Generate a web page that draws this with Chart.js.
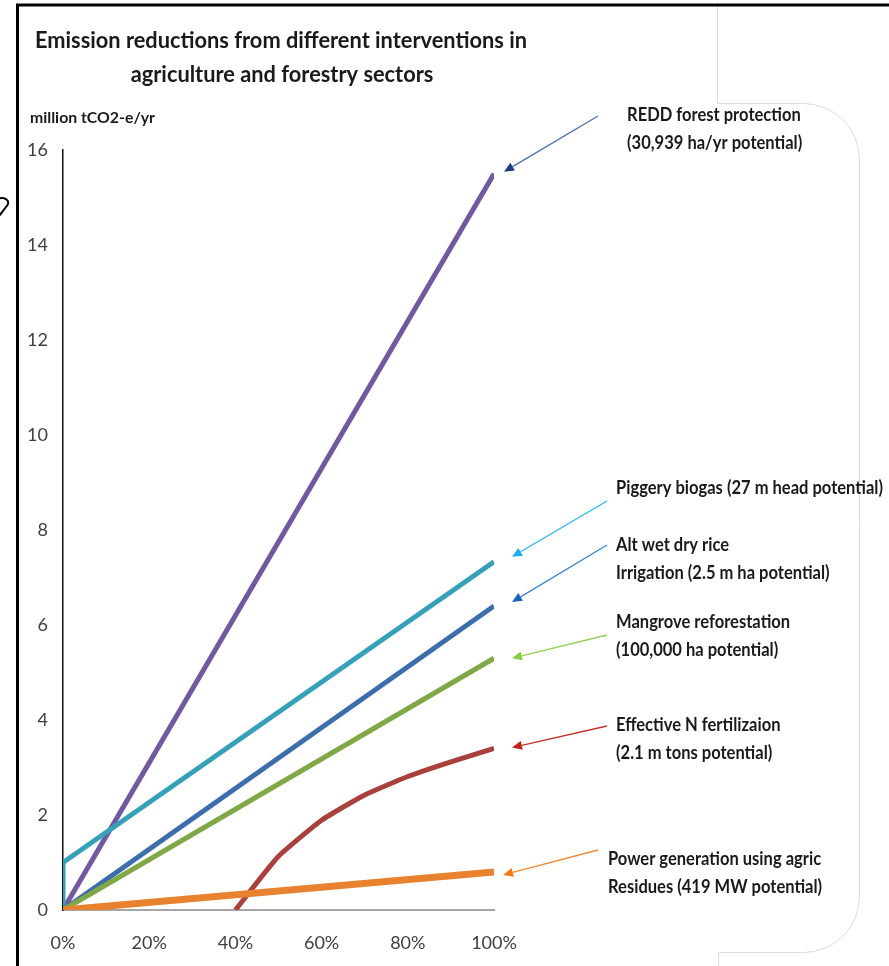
<!DOCTYPE html>
<html><head><meta charset="utf-8">
<script src="https://cdn.jsdelivr.net/npm/chart.js@4.4.1/dist/chart.umd.min.js"></script>
<style>html,body{margin:0;padding:0;background:#fff;overflow:hidden}canvas{display:block}</style>
</head><body>
<canvas id="c" width="889" height="966"></canvas>
<script>
const FONT = "Lato, 'Open Sans', 'Liberation Sans', sans-serif";

// ---- text ----
const titleLines = ['Emission reductions from different interventions in', 'agriculture and forestry sectors'];
const yAxisTitle = 'million tCO2-e/yr';
const seriesNames = ['REDD forest protection', 'Piggery biogas', 'Alt wet dry rice irrigation', 'Mangrove reforestation', 'Effective N fertilization', 'Power generation using agric residues'];
const labelRedd = ['REDD forest protection', '(30,939 ha/yr potential)'];
const labelPiggery = ['Piggery biogas (27 m head potential)'];
const labelRice = ['Alt wet dry rice', 'Irrigation (2.5 m ha potential)'];
const labelMangrove = ['Mangrove reforestation', '(100,000 ha potential)'];
const labelFert = ['Effective N fertilizaion', '(2.1 m tons potential)'];
const labelPower = ['Power generation using agric', 'Residues (419 MW potential)'];

// ---- ticks ----
const xTicks = [0, 20, 40, 60, 80, 100];
const yTicks = [0, 2, 4, 6, 8, 10, 12, 14, 16];

// ---- data (x = % of potential, y = million tCO2-e/yr) ----
const reddX = [0, 100];
const reddY = [0, 15.5];
const piggeryX = [0, 0, 100];
const piggeryY = [0, 1.0, 7.33];
const riceX = [0, 100];
const riceY = [0, 6.4];
const mangroveX = [0, 100];
const mangroveY = [0, 5.3];
const fertX = [40, 50, 60, 70, 80, 90, 100];
const fertY = [0, 1.13, 1.89, 2.42, 2.81, 3.12, 3.4];
const powerX = [0, 100];
const powerY = [0, 0.8];

const pts = (xs, ys) => xs.map((x, i) => ({x: x, y: ys[i]}));

const datasets = [
  {label: seriesNames[5], data: pts(powerX, powerY), borderColor: '#e8822f', borderWidth: 7, order: 0},
  {label: seriesNames[4], data: pts(fertX, fertY), borderColor: '#a8403c', borderWidth: 5, tension: 0.15, order: 1},
  {label: seriesNames[3], data: pts(mangroveX, mangroveY), borderColor: '#80a846', borderWidth: 5, order: 2},
  {label: seriesNames[2], data: pts(riceX, riceY), borderColor: '#3d6eac', borderWidth: 5, order: 3},
  {label: seriesNames[1], data: pts(piggeryX, piggeryY), borderColor: '#36a0b8', borderWidth: 5, order: 4},
  {label: seriesNames[0], data: pts(reddX, reddY), borderColor: '#7159a0', borderWidth: 5, order: 5}
];
datasets.forEach(d => { d.pointRadius = 0; d.pointHoverRadius = 0; d.fill = false; d.borderCapStyle = 'butt'; d.borderJoinStyle = 'round'; });

// annotation layout (positions of callout text/arrows)
const callouts = [
  {lines: labelRedd, xs: reddX, ys: reddY, tx: 627, ty: 115, from: [598, 116], tipDx: 10, tipDy: -2, line: '#4d6ea8', head: '#1c3d7e'},
  {lines: labelPiggery, xs: piggeryX, ys: piggeryY, tx: 616, ty: 488, from: [607, 501], tipDx: 18, tipDy: -5, line: '#2bb6ee', head: '#1aaeea'},
  {lines: labelRice, xs: riceX, ys: riceY, tx: 616, ty: 545, from: [607, 545], tipDx: 18, tipDy: -4, line: '#3a86c8', head: '#1565b5'},
  {lines: labelMangrove, xs: mangroveX, ys: mangroveY, tx: 616, ty: 622, from: [607, 635], tipDx: 18, tipDy: 0, line: '#95d055', head: '#8acb45'},
  {lines: labelFert, xs: fertX, ys: fertY, tx: 616, ty: 725, from: [607, 726], tipDx: 18, tipDy: -1, line: '#c4312b', head: '#c0201e'},
  {lines: labelPower, xs: powerX, ys: powerY, tx: 608, ty: 859, from: [598, 850], tipDx: 9, tipDy: 3, line: '#f08a35', head: '#ee7a1a'}
];

function arrow(ctx, x1, y1, x2, y2, lineColor, headColor) {
  const ang = Math.atan2(y2 - y1, x2 - x1);
  const L = 10, W = 4.5;
  const bx = x2 - L * Math.cos(ang), by = y2 - L * Math.sin(ang);
  ctx.save();
  ctx.strokeStyle = lineColor; ctx.lineWidth = 1.3;
  ctx.beginPath(); ctx.moveTo(x1, y1); ctx.lineTo(bx, by); ctx.stroke();
  ctx.fillStyle = headColor;
  ctx.beginPath();
  ctx.moveTo(x2, y2);
  ctx.lineTo(bx + W * Math.sin(ang), by - W * Math.cos(ang));
  ctx.lineTo(bx - W * Math.sin(ang), by + W * Math.cos(ang));
  ctx.closePath(); ctx.fill();
  ctx.restore();
}

// draw text with a horizontal condense factor k (Calibri-like narrowness)
function textK(ctx, t, x, y, k) {
  ctx.save(); ctx.translate(x, y); ctx.scale(k, 1); ctx.fillText(t, 0, 0); ctx.restore();
}

const decor = {
  id: 'decor',
  beforeDraw(chart) {
    const ctx = chart.ctx;
    ctx.save();
    ctx.fillStyle = '#fff';
    ctx.fillRect(0, 0, chart.width, chart.height);
    // faint rounded panel on the right
    ctx.strokeStyle = '#dcdcdc'; ctx.lineWidth = 1;
    ctx.beginPath();
    ctx.moveTo(717.5, 6); ctx.lineTo(717.5, 103.5); ctx.lineTo(803, 103.5);
    ctx.arcTo(859.5, 103.5, 859.5, 160, 56);
    ctx.lineTo(859.5, 896);
    ctx.arcTo(859.5, 952.5, 803, 952.5, 56);
    ctx.lineTo(718.5, 952.5); ctx.lineTo(718.5, 966);
    ctx.stroke();
    // black frame
    ctx.strokeStyle = '#000'; ctx.lineWidth = 3;
    ctx.beginPath(); ctx.moveTo(889, 5); ctx.lineTo(17.5, 5); ctx.lineTo(17.5, 966); ctx.stroke();
    // cropped fragment of a glyph at the left edge
    ctx.lineWidth = 2; ctx.lineCap = 'round'; ctx.lineJoin = 'round';
    ctx.beginPath();
    ctx.moveTo(-2, 198.5);
    ctx.bezierCurveTo(5, 197, 10, 200, 7.5, 205);
    ctx.lineTo(0, 215);
    ctx.stroke();
    ctx.restore();
  },
  afterDraw(chart) {
    const ctx = chart.ctx;
    const xs = chart.scales.x, ys = chart.scales.y;
    ctx.save();
    ctx.fillStyle = '#1a1a1a';
    ctx.textBaseline = 'middle';
    // title
    ctx.textAlign = 'center';
    ctx.font = 'bold 22px ' + FONT;
    const kT = 492 / ctx.measureText(titleLines[0]).width;
    textK(ctx, titleLines[0], 281, 41, kT);
    textK(ctx, titleLines[1], 282, 75, kT);
    // y-axis title
    ctx.textAlign = 'left';
    ctx.font = 'bold 15.5px ' + FONT;
    const kY = 125 / ctx.measureText(yAxisTitle).width;
    textK(ctx, yAxisTitle, 30, 118, kY);
    // callouts
    ctx.font = 'bold 18.5px ' + FONT;
    const kA = 267 / ctx.measureText(labelPiggery[0]).width;
    callouts.forEach(c => {
      c.lines.forEach((t, i) => textK(ctx, t, c.tx, c.ty + i * 28, kA));
      const n = c.xs.length - 1;
      const tipX = xs.getPixelForValue(c.xs[n]) + c.tipDx;
      const tipY = ys.getPixelForValue(c.ys[n]) + c.tipDy;
      arrow(ctx, c.from[0], c.from[1], tipX, tipY, c.line, c.head);
    });
    ctx.restore();
  }
};

new Chart(document.getElementById('c'), {
  type: 'line',
  data: {datasets: datasets},
  options: {
    responsive: false,
    devicePixelRatio: 1,
    animation: false,
    events: [],
    layout: {padding: {left: 0, right: 395, top: 150, bottom: 0}},
    plugins: {legend: {display: false}, title: {display: false}, tooltip: {enabled: false}},
    scales: {
      x: {
        type: 'linear', min: xTicks[0], max: xTicks[xTicks.length - 1],
        afterBuildTicks: s => { s.ticks = xTicks.map(v => ({value: v})); },
        afterFit: s => { s.height = 56; },
        grid: {display: false, drawTicks: false},
        border: {display: true, color: '#a6a6a6', width: 2},
        ticks: {padding: 22, color: '#404040', font: {family: FONT, size: 18}, callback: v => v + '%'}
      },
      y: {
        type: 'linear', min: yTicks[0], max: yTicks[yTicks.length - 1],
        afterBuildTicks: s => { s.ticks = yTicks.map(v => ({value: v})); },
        afterFit: s => { s.width = 63; },
        grid: {display: false, drawTicks: false},
        border: {display: true, color: '#111', width: 1.5},
        ticks: {padding: 15, color: '#404040', font: {family: FONT, size: 18}}
      }
    }
  },
  plugins: [decor]
});
</script>
</body></html>
